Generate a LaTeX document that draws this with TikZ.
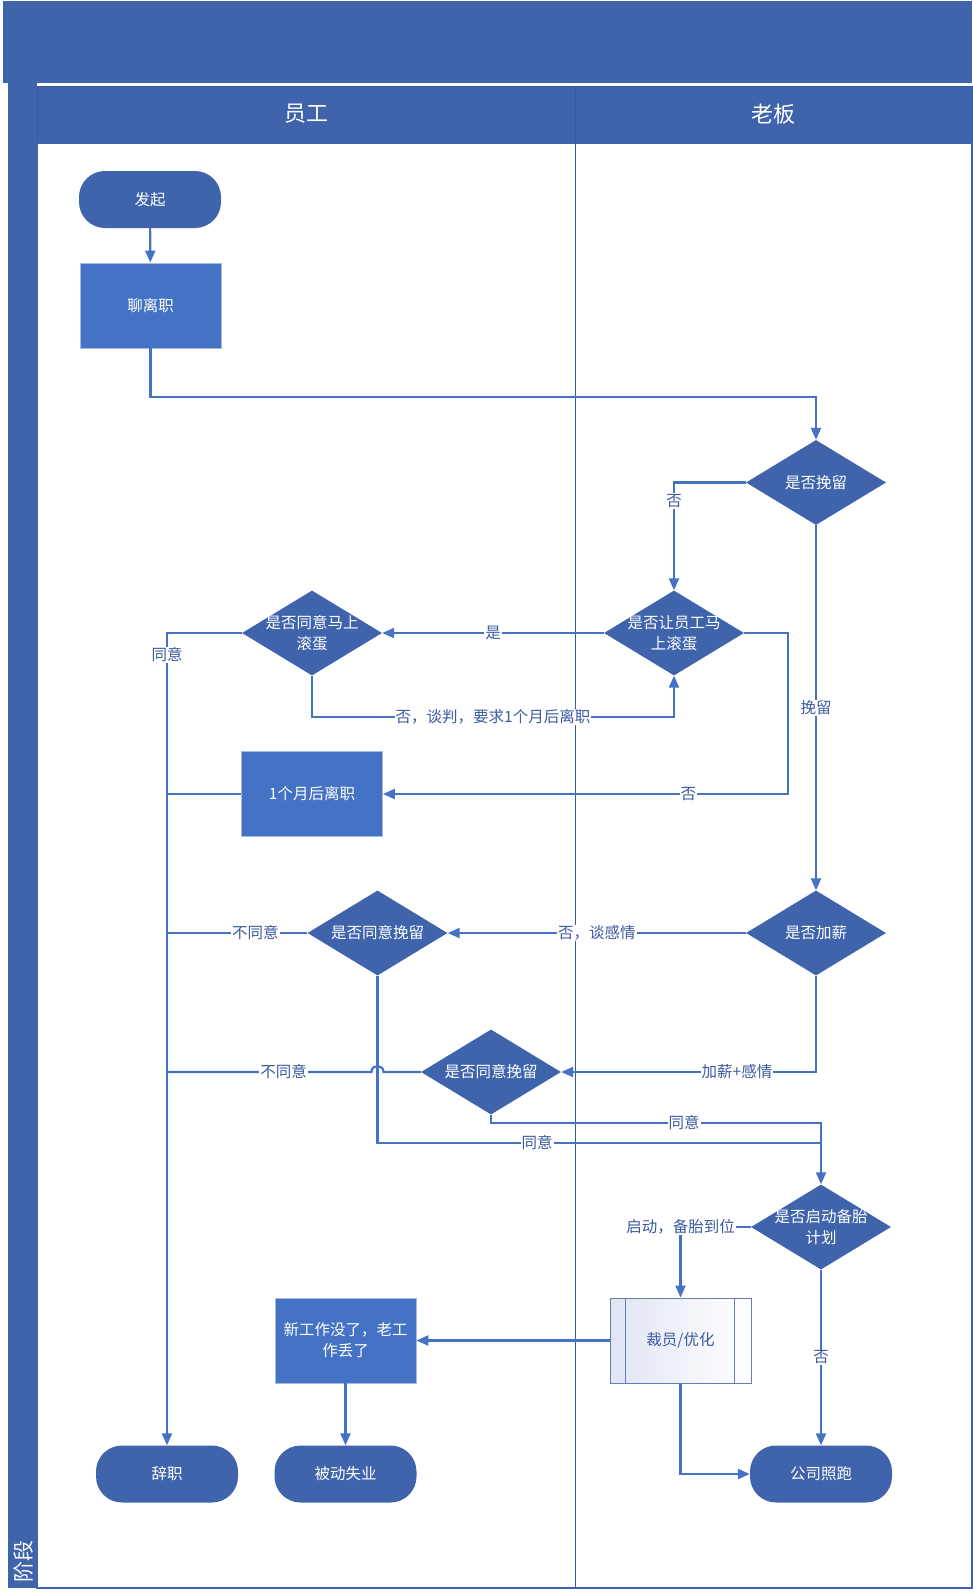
\documentclass[tikz,border=0pt]{standalone}
\usepackage{fontspec}
\setmainfont{Noto Sans CJK SC}
\usetikzlibrary{shapes.geometric,arrows.meta,calc}
\definecolor{dblue}{RGB}{63,100,172}
\definecolor{rblue}{RGB}{68,114,196}
\definecolor{lblue}{RGB}{68,114,196}
\definecolor{txtblue}{RGB}{60,90,160}
\definecolor{subl}{RGB}{224,229,242}
\definecolor{subborder}{RGB}{100,125,185}
\definecolor{procborder}{RGB}{165,185,225}
\definecolor{laneline}{RGB}{55,90,160}
\begin{document}
\begin{tikzpicture}[x=1pt,y=-1pt,
  every node/.style={font=\fontsize{15.5}{21}\selectfont},
  conn/.style={draw=lblue, line width=2.2pt},
  arr/.style={conn, -{Triangle[length=12pt,width=10pt]}},
  lbl/.style={fill=white, text=txtblue, inner sep=1pt, font=\fontsize{15.5}{18}\selectfont},
  dtext/.style={text=white, align=center, inner sep=0pt, font=\fontsize{15.5}{21}\selectfont},
  dec/.style={diamond, fill=dblue, draw=none, minimum width=140pt, minimum height=85pt, inner sep=0pt},
  term/.style={rectangle, rounded corners=26pt, fill=dblue, draw=none, minimum width=142pt, minimum height=57pt, text=white},
  proc/.style={rectangle, fill=rblue, draw=procborder, line width=0.8pt, minimum width=141pt, minimum height=85pt, text=white, align=center},
  subp/.style={rectangle, left color=subl, right color=white, draw=subborder, line width=1pt, minimum width=141pt, minimum height=85pt, text=txtblue},
  hdr/.style={text=white, font=\fontsize{22}{22}\selectfont}
]
\useasboundingbox (0,0) rectangle (973,1596);
\fill[white] (0,0) rectangle (973,1596);
% swimlane frame
\fill[dblue] (3,1) rectangle (972,83);
\fill[dblue] (8,83) rectangle (37,1588);
\fill[dblue] (37,86) rectangle (972,143);
\draw[laneline, line width=0.8pt] (37,86) rectangle (972,143);
\draw[dblue, line width=1.2pt] (37,143) rectangle (972,1588);
\draw[laneline, line width=1pt] (575,86) -- (575,1588);
\node[hdr] (h1) at (306,114) {员工};
\node[hdr] (h2) at (773.5,114) {老板};
\node[rotate=90, text=white, font=\fontsize{21}{21}\selectfont] (stage) at (23,1561) {阶段};

% nodes
\node[term] (start) at (150,199.5) {发起};
\node[proc] (chat) at (150.5,305.5) {聊离职};
\node[dec, label={[dtext]center:是否挽留}] (d1) at (816,482.5) {};
\node[dec, label={[dtext]center:{是否让员工马\\上滚蛋}}] (d2) at (674,633) {};
\node[dec, label={[dtext]center:{是否同意马上\\滚蛋}}] (d3) at (312,633) {};
\node[proc] (r1) at (312,794) {1个月后离职};
\node[dec, label={[dtext]center:是否加薪}] (d4) at (816,933) {};
\node[dec, label={[dtext]center:是否同意挽留}] (d5) at (377.5,933) {};
\node[dec, label={[dtext]center:是否同意挽留}] (d6) at (491,1072) {};
\node[dec, label={[dtext]center:{是否启动备胎\\计划}}] (d7) at (821,1227) {};
\node[subp] (sub) at (680.5,1340.5) {裁员/优化};
\draw[subborder, line width=1pt] ([xshift=16pt]sub.north west) -- ([xshift=16pt]sub.south west);
\draw[subborder, line width=1pt] ([xshift=-17pt]sub.north east) -- ([xshift=-17pt]sub.south east);
\node[proc] (r2) at (345.5,1340.5) {新工作没了，老工\\作丢了};
\node[term] (e1) at (167,1474) {辞职};
\node[term] (e2) at (345.5,1474) {被动失业};
\node[term] (e3) at (821,1474) {公司照跑};

% connectors
\draw[arr] (start) -- (chat);
\draw[arr] (chat.south) |- (816,397) -- (d1.north);
\draw[arr] (d1.west) -| node[lbl,pos=0.586]{否} (d2.north);
\draw[arr] (d2.west) -- node[lbl]{是} (d3.east);
\draw[arr] (d3.south) -- (312,717) -- node[lbl]{否，谈判，要求1个月后离职} (674,717) -- (d2.south);
\draw[arr] (d3.west) -- (167,633) -- node[lbl,pos=0.027]{同意} (e1.north);
\draw[arr] (d2.east) -- (788,633) -- (788,794) -- node[lbl,pos=0.246]{否} (r1.east);
\draw[conn] (r1.west) -- (167,794);
\draw[arr] (d1.south) -- node[lbl]{挽留} (d4.north);
\draw[arr] (d4.west) -- node[lbl]{否，谈感情} (d5.east);
\draw[conn] (d5.west) -- node[lbl,pos=0.37]{不同意} (167,933);
\draw[arr] (d4.south) -- (816,1072) -- node[lbl,pos=0.31]{加薪+感情} (d6.east);
\draw[conn] (d6.west) -- (383.5,1072) .. controls (383.5,1064) and (371.5,1064) .. (371.5,1072) -- node[lbl,pos=0.43]{不同意} (167,1072);
\draw[conn] (d5.south) -- (377.5,1143) -- node[lbl,pos=0.36]{同意} (821,1143);
\draw[arr] (d6.south) -- (491,1123) -- node[lbl,pos=0.585]{同意} (821,1123) -- (d7.north);
\draw[arr] (d7.west) -- (680.5,1227) node[lbl]{启动，备胎到位} -- (sub.north);
\draw[arr] (d7.south) -- node[lbl]{否} (e3.north);
\draw[arr] (sub.west) -- (r2.east);
\draw[arr] (r2.south) -- (e2.north);
\draw[arr] (sub.south) |- (e3.west);
\end{tikzpicture}
\end{document}
